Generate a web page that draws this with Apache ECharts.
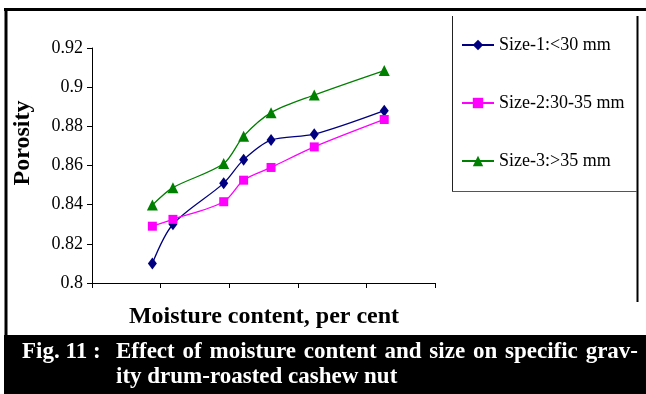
<!DOCTYPE html>
<html>
<head>
<meta charset="utf-8">
<script src="https://cdn.jsdelivr.net/npm/echarts@6/dist/echarts.min.js"></script>
<style>
html,body{margin:0;padding:0;background:#fff;}
#chart{width:646px;height:394px;}
</style>
</head>
<body>
<div id="chart"></div>
<script>
// Moisture content (per cent, estimated positions; axis has no tick labels)
const moisture = [4.4, 5.9, 9.6, 11.05, 13.05, 16.2, 21.3];
const seriesNames = ['Size-1:<30 mm', 'Size-2:30-35 mm', 'Size-3:>35 mm'];
const size1 = [0.810, 0.830, 0.851, 0.863, 0.873, 0.876, 0.888];
const size2 = [0.829, 0.8325, 0.8415, 0.8525, 0.859, 0.8695, 0.8835];
const size3 = [0.8398, 0.8487, 0.861, 0.875, 0.887, 0.896, 0.9085];
const yTicks = [0.8, 0.82, 0.84, 0.86, 0.88, 0.9, 0.92];
const xTitle = 'Moisture content, per cent';
const yTitle = 'Porosity';
const captionLabel = 'Fig. 11 :';
const captionLine1 = 'Effect of moisture content and size on specific grav-';
const captionLine2 = 'ity drum-roasted cashew nut';

const pair = (vals) => moisture.map((x, i) => [x, vals[i]]);
const serif = '"Liberation Serif", "Times New Roman", serif';
const capFont = 'bold 23px ' + serif;

// justify caption line 1 between two x positions (word-by-word real text)
function justifiedWords(text, x0, x1, y, font) {
  const ctx = document.createElement('canvas').getContext('2d');
  ctx.font = font;
  const words = text.split(' ');
  const widths = words.map(w => ctx.measureText(w).width);
  const total = widths.reduce((a, b) => a + b, 0);
  const gap = (x1 - x0 - total) / (words.length - 1);
  let x = x0;
  return words.map((w, i) => {
    const el = {type: 'text', x: x, y: y, style: {text: w, font: font, fill: '#fff', textAlign: 'left', textVerticalAlign: 'middle'}};
    x += widths[i] + gap;
    return el;
  });
}

const chart = echarts.init(document.getElementById('chart'), null, {renderer: 'canvas'});
const option = {
  backgroundColor: '#fff',
  animation: false,
  grid: {left: 92, right: 211, top: 48, bottom: 111},
  xAxis: {
    type: 'value', min: 0, max: 25, interval: 5,
    axisLine: {lineStyle: {color: '#000', width: 1}},
    axisTick: {show: true, length: 5, lineStyle: {color: '#000'}},
    axisLabel: {show: false},
    splitLine: {show: false}
  },
  yAxis: {
    type: 'value', min: yTicks[0], max: yTicks[yTicks.length - 1], interval: 0.02,
    axisLine: {show: true, lineStyle: {color: '#000', width: 1}},
    axisTick: {show: true, length: 5, lineStyle: {color: '#000'}},
    axisLabel: {
      margin: 9, color: '#000', fontFamily: serif, fontSize: 18,
      formatter: (v) => String(+v.toFixed(2))
    },
    splitLine: {show: false}
  },
  legend: {
    orient: 'vertical', left: 456, top: 30,
    itemWidth: 32, itemHeight: 13, itemGap: 38,
    textStyle: {fontFamily: serif, fontSize: 18, color: '#000', lineHeight: 20},
    data: seriesNames
  },
  series: [
    {name: seriesNames[0], type: 'line', data: pair(size1), smooth: 0.3,
     symbol: 'diamond', symbolSize: [9, 12], color: '#000080',
     lineStyle: {width: 1.3, color: '#000080'}, itemStyle: {color: '#000080'}},
    {name: seriesNames[1], type: 'line', data: pair(size2), smooth: 0.3,
     symbol: 'rect', symbolSize: 9, color: '#FF00FF',
     lineStyle: {width: 1.3, color: '#FF00FF'}, itemStyle: {color: '#FF00FF'}},
    {name: seriesNames[2], type: 'line', data: pair(size3), smooth: 0.3,
     symbol: 'triangle', symbolSize: [11, 11], color: '#008000',
     lineStyle: {width: 1.3, color: '#008000'}, itemStyle: {color: '#008000'}}
  ],
  graphic: [
    // outer frame
    {type: 'line', shape: {x1: 4, y1: 9.5, x2: 646, y2: 9.5}, style: {stroke: '#000', lineWidth: 3}},
    {type: 'line', shape: {x1: 6, y1: 8, x2: 6, y2: 336}, style: {stroke: '#000', lineWidth: 3}},
    {type: 'line', shape: {x1: 637.5, y1: 16, x2: 637.5, y2: 302}, style: {stroke: '#000', lineWidth: 2}},
    // legend box
    {type: 'line', shape: {x1: 452.5, y1: 16, x2: 452.5, y2: 191}, style: {stroke: '#222', lineWidth: 1}},
    {type: 'line', shape: {x1: 452, y1: 191.5, x2: 637, y2: 191.5}, style: {stroke: '#555', lineWidth: 1}},
    // caption band
    {type: 'rect', shape: {x: 4, y: 335, width: 642, height: 59}, style: {fill: '#000'}},
    {type: 'text', x: 22, y: 352, style: {text: captionLabel, font: capFont, fill: '#fff', textAlign: 'left', textVerticalAlign: 'middle'}},
    ...justifiedWords(captionLine1, 116, 638, 352, capFont),
    {type: 'text', x: 116, y: 377, style: {text: captionLine2, font: capFont, fill: '#fff', textAlign: 'left', textVerticalAlign: 'middle'}},
    // axis titles
    {type: 'text', x: 264, y: 317, style: {text: xTitle, font: 'bold 24px ' + serif, fill: '#000', textAlign: 'center', textVerticalAlign: 'middle'}},
    {type: 'text', x: 23, y: 143, rotation: Math.PI / 2, style: {text: yTitle, font: 'bold 24px ' + serif, fill: '#000', textAlign: 'center', textVerticalAlign: 'middle'}}
  ]
};
chart.setOption(option);
</script>
</body>
</html>
